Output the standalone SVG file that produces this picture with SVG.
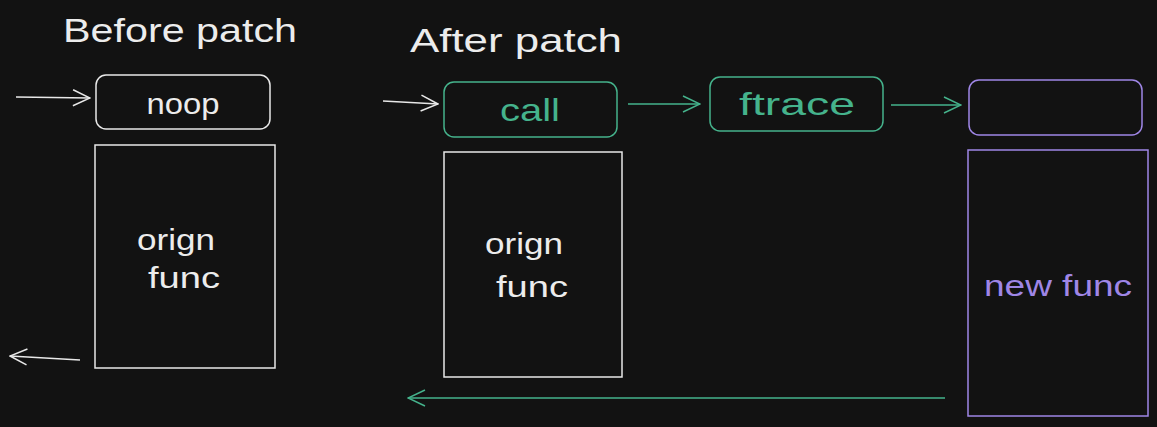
<svg xmlns="http://www.w3.org/2000/svg" width="1157" height="427" viewBox="0 0 1157 427">
<defs>
<style>
.t{font-family:"Liberation Sans",Arial,sans-serif;text-anchor:middle;}
.w{fill:none;stroke:#e8e8e8;stroke-width:1.5;}
.g{fill:none;stroke:#45b38c;stroke-width:1.5;}
.p{fill:none;stroke:#9f86e6;stroke-width:1.5;}
.tw{fill:#ececec;}
.tg{fill:#45b38c;}
.tp{fill:#9f86e6;}
</style>
<marker id="aw" viewBox="0 0 20 20" refX="19" refY="10" markerWidth="20" markerHeight="20" markerUnits="userSpaceOnUse" orient="auto">
<path d="M2,2 L19,10 L2,18" fill="none" stroke="#e8e8e8" stroke-width="1.5"/>
</marker>
<marker id="ag" viewBox="0 0 20 20" refX="19" refY="10" markerWidth="20" markerHeight="20" markerUnits="userSpaceOnUse" orient="auto">
<path d="M2,2 L19,10 L2,18" fill="none" stroke="#45b38c" stroke-width="1.5"/>
</marker>
</defs>
<rect width="1157" height="427" fill="#121212"/>
<g id="title-before"><text class="t tw" x="180" y="42" font-size="34" textLength="234" lengthAdjust="spacingAndGlyphs">Before patch</text></g>
<g id="title-after"><text class="t tw" x="516" y="52" font-size="34" textLength="212" lengthAdjust="spacingAndGlyphs">After patch</text></g>
<g id="noop"><rect class="w" x="96" y="75" width="174" height="54" rx="10"/><text class="t tw" x="183" y="114" font-size="30" textLength="73" lengthAdjust="spacingAndGlyphs">noop</text></g>
<g id="origin1"><rect class="w" x="95" y="145" width="180" height="223"/><text class="t tw" x="176" y="250" font-size="30" textLength="78" lengthAdjust="spacingAndGlyphs">orign</text><text class="t tw" x="184" y="288" font-size="30" textLength="72" lengthAdjust="spacingAndGlyphs">func</text></g>
<g id="call"><rect class="g" x="444" y="82" width="173" height="55" rx="10"/><text class="t tg" x="530" y="121" font-size="32" textLength="60" lengthAdjust="spacingAndGlyphs">call</text></g>
<g id="ftrace"><rect class="g" x="710" y="77" width="173" height="54" rx="10"/><text class="t tg" x="797" y="115" font-size="32" textLength="116" lengthAdjust="spacingAndGlyphs">ftrace</text></g>
<g id="target"><rect class="p" x="969" y="80" width="173" height="55" rx="10"/></g>
<g id="origin2"><rect class="w" x="444" y="152" width="178" height="225"/><text class="t tw" x="524" y="254" font-size="30" textLength="78" lengthAdjust="spacingAndGlyphs">orign</text><text class="t tw" x="532" y="297" font-size="30" textLength="72" lengthAdjust="spacingAndGlyphs">func</text></g>
<g id="newfunc"><rect class="p" x="968" y="150" width="180" height="266"/><text class="t tp" x="1058" y="296" font-size="30" textLength="148" lengthAdjust="spacingAndGlyphs">new func</text></g>
<g id="connectors">
<line class="w" x1="16" y1="97" x2="90" y2="98" marker-end="url(#aw)"/>
<line class="w" x1="80" y1="360" x2="10" y2="356" marker-end="url(#aw)"/>
<line class="w" x1="383" y1="101" x2="438" y2="104" marker-end="url(#aw)"/>
<line class="g" x1="628" y1="104" x2="700" y2="104" marker-end="url(#ag)"/>
<line class="g" x1="891" y1="105" x2="961" y2="105" marker-end="url(#ag)"/>
<line class="g" x1="945" y1="398" x2="408" y2="398" marker-end="url(#ag)"/>
</g>
</svg>
